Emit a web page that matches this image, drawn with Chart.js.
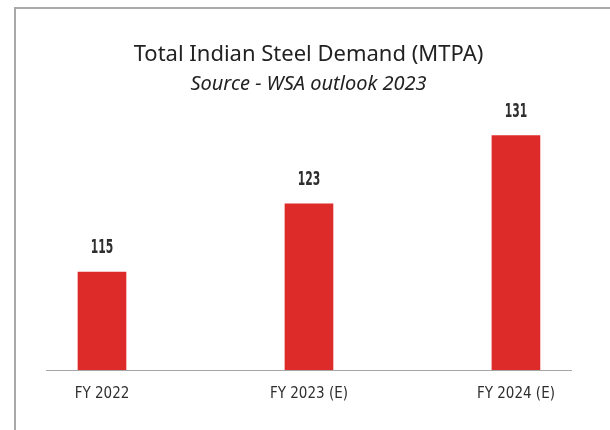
<!DOCTYPE html>
<html>
<head>
<meta charset="utf-8">
<script src="https://cdn.jsdelivr.net/npm/chart.js@4"></script>
<style>
  html, body { margin: 0; padding: 0; background: #fff; }
  #wrap { position: relative; width: 610px; height: 430px; overflow: hidden; }
  #frame {
    position: absolute; left: 14px; top: 7px; width: 700px; height: 500px;
    border-left: 2px solid #a9a9a9; border-top: 2px solid #a9a9a9;
    pointer-events: none;
  }
</style>
</head>
<body>
<div id="wrap">
  <canvas id="steelChart" width="610" height="430"></canvas>
  <div id="frame"></div>
</div>
<script>
// Data
const categories = ["FY 2022", "FY 2023 (E)", "FY 2024 (E)"];
const demand = [115, 123, 131];
const chartTitle = "Total Indian Steel Demand (MTPA)";
const chartSubtitle = "Source - WSA outlook 2023";

const narrowFont = "'DejaVu Sans Condensed', 'Liberation Sans Narrow', sans-serif";

// value labels above the bars (no datalabels plugin offline)
// squeezed horizontally to get close to the condensed face of the original
const barValueLabels = {
  id: "barValueLabels",
  afterDatasetsDraw(chart) {
    const { ctx } = chart;
    const meta = chart.getDatasetMeta(0);
    const squeeze = 0.63;
    meta.data.forEach(function (bar, i) {
      ctx.save();
      ctx.font = "bold 19px " + narrowFont;
      ctx.fillStyle = "#2e2e2e";
      ctx.textAlign = "center";
      ctx.textBaseline = "middle";
      ctx.translate(bar.x, bar.y - 24);
      ctx.scale(squeeze, 1);
      ctx.fillText(String(demand[i]), 0, 0);
      ctx.restore();
    });
  }
};

const ctx = document.getElementById("steelChart");
new Chart(ctx, {
  type: "bar",
  data: {
    datasets: [{
      data: demand.map(function (v, i) { return { x: i, y: v }; }),
      backgroundColor: "#dc2b28",
      borderWidth: 0,
      barThickness: 48
    }]
  },
  options: {
    responsive: false,
    animation: false,
    events: [],
    layout: { padding: { left: 46, right: 39, top: 0, bottom: 12 } },
    plugins: {
      legend: { display: false },
      tooltip: { enabled: false },
      title: {
        display: true,
        text: chartTitle,
        color: "#222",
        font: { family: "'Noto Sans', 'Open Sans', sans-serif", size: 22, weight: "normal" },
        padding: { top: 42, bottom: 4 }
      },
      subtitle: {
        display: true,
        text: chartSubtitle,
        color: "#222",
        font: { family: "'Noto Sans', 'Open Sans', sans-serif", size: 20, style: "italic" },
        padding: { top: 0, bottom: 0 }
      }
    },
    scales: {
      x: {
        type: "linear",
        offset: false,
        min: -0.2705,
        max: 2.266,
        afterBuildTicks: function (scale) {
          scale.ticks = categories.map(function (_, i) { return { value: i }; });
        },
        ticks: {
          autoSkip: false,
          maxRotation: 0,
          padding: 15,
          color: "#2e2e2e",
          font: { family: narrowFont, size: 15 },
          callback: function (value) { return categories[value]; }
        },
        grid: { display: false, drawTicks: false, offset: false },
        border: { display: true, color: "#a6a6a6", width: 1 }
      },
      y: {
        display: false,
        beginAtZero: false,
        min: 103.5,
        max: 135.6
      }
    }
  },
  plugins: [barValueLabels]
});
</script>
</body>
</html>
